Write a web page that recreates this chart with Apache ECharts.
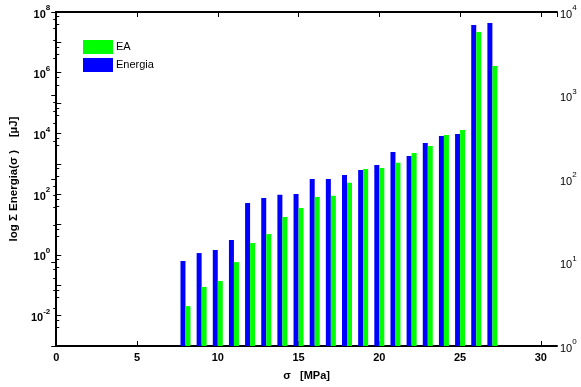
<!DOCTYPE html>
<html><head><meta charset="utf-8">
<script src="https://cdn.jsdelivr.net/npm/echarts@6/dist/echarts.min.js"></script>
<style>html,body{margin:0;padding:0;background:#fff}#c{width:581px;height:387px}</style>
</head><body><div id="c"></div>
<script>
// sigma [MPa] categories
const sigma = [8, 9, 10, 11, 12, 13, 14, 15, 16, 17, 18, 19, 20, 21, 22, 23, 24, 25, 26, 27];
// Energia (left axis, µJ)
const energia = [0.63, 1.15, 1.45, 3.1, 51, 75, 95, 101, 316, 316, 427, 625, 912, 2450, 1810, 4840, 8240, 9550, 3.7e7, 4.35e7];
// EA (right axis)
const ea = [3.0, 5.1, 6.0, 10.1, 17.1, 21.9, 35, 45, 61, 63, 90, 132, 135, 156, 205, 248, 337, 386, 5760, 2255];
// tick labels
const xTicks = [0, 5, 10, 15, 20, 25, 30];
const leftLabelExps = [-2, 0, 2, 4, 6, 8];
const rightLabelExps = [0, 1, 2, 3, 4];

const FONT = 'Liberation Sans, Arial, Helvetica, sans-serif';
const black = '#000';

function powLabel(exps) {
  return function (v) {
    const e = Math.round(Math.log10(v));
    return exps.indexOf(e) >= 0 ? '{b|10}{s|' + e + '}' : '';
  };
}

const chart = echarts.init(document.getElementById('c'), null, {renderer: 'canvas'});
chart.setOption({
  animation: false,
  backgroundColor: '#fff',
  grid: {left: 53, right: 24, top: 12, bottom: 41, containLabel: false},
  legend: {
    data: ['EA', 'Energia'],
    orient: 'vertical', left: 83, top: 40, padding: 0,
    itemWidth: 30, itemHeight: 14, itemGap: 4,
    icon: 'rect',
    textStyle: {fontFamily: FONT, fontSize: 11, color: '#000', padding: [0, 0, 0, -2]}
  },
  xAxis: [{
    type: 'value', position: 'bottom', min: 0, max: 31, interval: 5,
    axisLine: {show: true, lineStyle: {color: black, width: 2}},
    axisTick: {show: true, inside: true, length: 5, lineStyle: {color: black, width: 1}},
    axisLabel: {
      show: true, showMaxLabel: false, margin: 6,
      fontFamily: FONT, fontSize: 11, fontWeight: 'bold', color: '#000',
      formatter: v => (xTicks.indexOf(v) >= 0 ? String(v) : '')
    },
    splitLine: {show: false},
    name: 'σ   [MPa]', nameLocation: 'middle', nameGap: 24,
    nameTextStyle: {fontFamily: FONT, fontSize: 11, fontWeight: 'bold', color: '#000'}
  }, {
    type: 'value', position: 'top', min: 0, max: 31, interval: 5,
    axisLine: {show: true, lineStyle: {color: black, width: 2}},
    axisTick: {show: true, inside: true, length: 5, lineStyle: {color: black, width: 1}},
    axisLabel: {show: false},
    splitLine: {show: false}
  }],
  yAxis: [{
    type: 'log', logBase: 10, min: 1e-3, max: 1e8, interval: 1, startValue: 1e-3,
    position: 'left',
    axisLine: {show: true, lineStyle: {color: black, width: 2}},
    axisTick: {show: true, inside: true, length: 5, lineStyle: {color: black, width: 1}},
    minorTick: {show: true, splitNumber: 3, length: 3, lineStyle: {color: black, width: 1}},
    axisLabel: {
      margin: 6, color: '#000', formatter: powLabel(leftLabelExps),
      rich: {
        b: {fontFamily: FONT, fontSize: 11, fontWeight: 'bold', color: '#000', lineHeight: 16, verticalAlign: 'bottom'},
        s: {fontFamily: FONT, fontSize: 8, fontWeight: 'bold', color: '#000', lineHeight: 16, verticalAlign: 'top'}
      }
    },
    splitLine: {show: false},
    name: 'log Σ Energia(σ )    [µJ]', nameLocation: 'middle', nameGap: 33, nameRotate: 90,
    nameTextStyle: {fontFamily: FONT, fontSize: 11.5, fontWeight: 'bold', color: '#000'}
  }, {
    type: 'log', logBase: 10, min: 1, max: 1e4, interval: 1, startValue: 1,
    position: 'right',
    axisLine: {show: true, lineStyle: {color: black, width: 2}},
    axisTick: {show: true, inside: true, length: 5, lineStyle: {color: black, width: 1}},
    minorTick: {show: true, splitNumber: 5, length: 3, lineStyle: {color: black, width: 1}},
    axisLabel: {
      margin: 3, color: '#000', formatter: powLabel(rightLabelExps),
      rich: {
        b: {fontFamily: FONT, fontSize: 11, color: '#000', lineHeight: 16, verticalAlign: 'bottom'},
        s: {fontFamily: FONT, fontSize: 8, color: '#000', lineHeight: 16, verticalAlign: 'top'}
      }
    },
    splitLine: {show: false}
  }],
  series: [{
    name: 'Energia', type: 'bar', xAxisIndex: 0, yAxisIndex: 0,
    barWidth: 5, barGap: '0%',
    itemStyle: {color: '#0000ff'},
    data: sigma.map((s, i) => [s, energia[i]])
  }, {
    name: 'EA', type: 'bar', xAxisIndex: 0, yAxisIndex: 1,
    barWidth: 5, barGap: '0%',
    itemStyle: {color: '#00ff00'},
    data: sigma.map((s, i) => [s, ea[i]])
  }]
});
</script>
</body></html>
